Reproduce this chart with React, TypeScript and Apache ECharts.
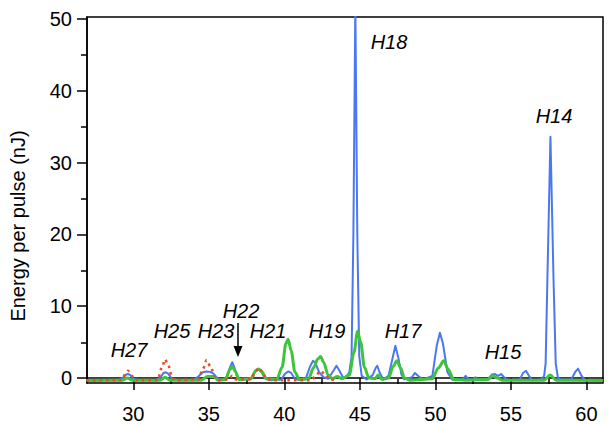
import React, { useEffect, useRef } from "react";
import * as echarts from "echarts";

// x: wavelength-like axis value, y: energy per pulse (nJ)
const blueSeries: [number, number][] = [
  [26.9, -0.3], [28.0, -0.3], [29.0, -0.3], [29.3, 0.0], [29.5, 0.45], [29.65, 0.55], [29.8, 0.4], [30.0, -0.1], [30.3, -0.3],
  [31.5, -0.3], [31.8, 0.1], [32.0, 0.7], [32.15, 0.8], [32.3, 0.6], [32.55, -0.1], [32.9, -0.3],
  [34.0, -0.3], [34.3, 0.2], [34.6, 0.8], [34.85, 0.9], [35.1, 0.85], [35.3, 0.6], [35.6, -0.1], [35.9, -0.3],
  [36.2, 0.2], [36.4, 1.5], [36.55, 2.2], [36.7, 1.4], [36.9, 0.0], [37.2, -0.3],
  [37.8, 0.0], [38.05, 0.9], [38.25, 1.2], [38.45, 0.9], [38.75, -0.1], [39.1, -0.3],
  [39.8, -0.2], [40.05, 0.6], [40.25, 0.9], [40.45, 0.7], [40.7, -0.1], [41.0, -0.3],
  [41.4, -0.2], [41.7, 1.6], [41.9, 2.4], [42.05, 2.1], [42.3, 0.8], [42.6, 0.1], [42.9, -0.1],
  [43.25, 1.0], [43.45, 1.7], [43.65, 1.0], [43.9, 0.0], [44.15, 0.3],
  [44.3, 0.8], [44.45, 3.0], [44.57, 20], [44.7, 52], [44.83, 20], [44.96, 3.0], [45.12, 0.3], [45.45, -0.2],
  [45.85, 0.4], [46.05, 1.4], [46.15, 1.7], [46.3, 0.8], [46.55, -0.2],
  [46.9, 0.3], [47.15, 2.6], [47.35, 4.5], [47.55, 2.8], [47.75, 0.5], [47.95, -0.2],
  [48.45, 0.1], [48.65, 0.7], [48.9, 0.2], [49.2, -0.2],
  [49.8, 0.3], [50.1, 4.6], [50.3, 6.3], [50.5, 4.8], [50.8, 0.8], [51.1, -0.2],
  [51.8, -0.2], [52.0, 0.3], [52.2, -0.2], [52.5, -0.2], [52.65, 0.1], [52.8, -0.2],
  [53.5, -0.1], [53.75, 0.5], [53.95, 0.55], [54.15, 0.3], [54.35, 0.55], [54.55, 0.1], [54.8, -0.3],
  [55.6, -0.2], [55.8, 0.7], [56.0, 1.0], [56.2, 0.3], [56.4, -0.3],
  [57.0, -0.2], [57.2, 0.3], [57.3, 2.0], [57.42, 14], [57.62, 33.6], [57.82, 14], [57.97, 2.0], [58.12, 0.0], [58.3, -0.2],
  [59.0, -0.2], [59.25, 0.8], [59.45, 1.3], [59.65, 0.4], [59.9, -0.3], [61.1, -0.3],
];

const greenSeries: [number, number][] = [
  [26.9, -0.35], [29.3, -0.3], [29.6, 0.0], [29.9, -0.3], [31.8, -0.3], [32.1, 0.1], [32.4, -0.3],
  [34.5, -0.3], [34.9, 0.2], [35.3, 0.2], [35.6, -0.3],
  [36.1, -0.2], [36.4, 1.2], [36.55, 1.6], [36.75, 0.9], [37.0, -0.2],
  [37.8, -0.1], [38.1, 1.0], [38.3, 1.25], [38.5, 0.9], [38.8, -0.1],
  [39.5, -0.2], [39.85, 1.5], [40.1, 4.8], [40.25, 5.4], [40.45, 3.8], [40.7, 0.8], [41.0, -0.2],
  [41.6, -0.1], [41.95, 1.5], [42.2, 2.6], [42.4, 3.0], [42.6, 2.2], [42.9, 0.4], [43.2, -0.1],
  [43.5, 0.2], [43.8, -0.1],
  [44.3, 0.4], [44.6, 3.5], [44.85, 6.5], [45.05, 5.0], [45.3, 1.5], [45.6, 0.0],
  [46.0, -0.1], [46.2, 0.4], [46.45, -0.2],
  [46.9, 0.0], [47.2, 1.6], [47.45, 2.4], [47.7, 1.4], [47.95, 0.0], [48.3, -0.3],
  [49.8, -0.1], [50.2, 1.4], [50.55, 2.4], [50.85, 1.2], [51.2, -0.2],
  [52.0, -0.3], [53.5, -0.2], [53.8, 0.3], [54.1, 0.0], [54.4, -0.3],
  [57.2, -0.3], [57.6, 0.4], [58.0, -0.3], [61.1, -0.35],
];

const redSeries: [number, number][] = [
  [26.9, -0.35], [29.2, -0.3], [29.5, 0.6], [29.65, 1.0], [29.8, 0.6], [30.1, -0.3],
  [31.6, -0.3], [31.9, 1.5], [32.1, 2.6], [32.3, 1.8], [32.6, -0.1], [32.9, -0.3],
  [34.3, -0.2], [34.6, 1.2], [34.85, 2.5], [35.1, 1.6], [35.4, 0.2], [35.7, -0.3],
  [36.3, -0.2], [36.55, 0.3], [36.8, -0.2],
  [37.8, -0.2], [38.1, 1.0], [38.3, 1.4], [38.5, 1.0], [38.8, -0.1], [39.2, -0.3],
  [41.8, -0.3], [42.1, 0.4], [42.4, 1.0], [42.7, 0.5], [43.0, -0.2], [43.5, -0.3],
];

const xMajorTicks = [30, 35, 40, 45, 50, 55, 60];
const xMinorTicks = [32.5, 37.5, 42.5, 47.5, 52.5, 57.5];
const yMajorTicks = [0, 10, 20, 30, 40, 50];
const yMinorTicks = [5, 15, 25, 35, 45];

const harmonicLabels = ["H27", "H25", "H23", "H22", "H21", "H19", "H17", "H15", "H18", "H14"];
const labelPos: [number, number][] = [
  [129, 350], [172, 331], [216, 331], [241, 311], [268, 331], [327, 331], [403, 331], [503, 352], [389, 42], [554, 116],
];

const X_MIN = 26.93;
const X_MAX = 61.1;
const Y_MIN = -0.7;
const Y_MAX = 50.28;
const FONT = "Liberation Sans, Arial, sans-serif";

export default function App() {
  const ref = useRef<HTMLDivElement>(null);
  useEffect(() => {
    if (!ref.current) return;
    const chart = echarts.init(ref.current, undefined, { renderer: "svg" });
    const gridRect = { left: 87, right: 11, top: 17, bottom: 40 };
    const black = "#000";
    chart.setOption({
      animation: false,
      backgroundColor: "#fff",
      grid: [
        { ...gridRect, show: true, borderColor: black, borderWidth: 1.5, backgroundColor: "transparent" },
        { ...gridRect, show: false },
      ],
      xAxis: [
        {
          type: "value", gridIndex: 0, min: X_MIN, max: X_MAX,
          axisLine: { show: true, lineStyle: { color: black, width: 1.5 } },
          axisTick: { show: true, customValues: xMajorTicks, length: 12, lineStyle: { color: black, width: 1.5 } },
          axisLabel: { customValues: xMajorTicks, fontSize: 20, color: black, margin: 21, fontFamily: FONT },
          splitLine: { show: false },
        },
        {
          type: "value", gridIndex: 1, min: X_MIN, max: X_MAX,
          axisLine: { show: false },
          axisTick: { show: true, customValues: xMinorTicks, length: 5, lineStyle: { color: black, width: 1.5 } },
          axisLabel: { show: false },
          splitLine: { show: false },
        },
      ],
      yAxis: [
        {
          type: "value", gridIndex: 0, min: Y_MIN, max: Y_MAX,
          axisLine: { show: true, lineStyle: { color: black, width: 1.5 } },
          axisTick: { show: true, customValues: yMajorTicks, length: 10, lineStyle: { color: black, width: 1.5 } },
          axisLabel: { customValues: yMajorTicks, fontSize: 20, color: black, margin: 15, fontFamily: FONT },
          splitLine: { show: false },
        },
        {
          type: "value", gridIndex: 1, min: Y_MIN, max: Y_MAX,
          axisLine: { show: false },
          axisTick: { show: true, customValues: yMinorTicks, length: 6, lineStyle: { color: black, width: 1.5 } },
          axisLabel: { show: false },
          splitLine: { show: false },
        },
      ],
      series: [
        {
          type: "line", xAxisIndex: 0, yAxisIndex: 0, data: blueSeries, showSymbol: false,
          smooth: false, clip: true,
          lineStyle: { color: "#4a78f0", width: 2, join: "round" },
        },
        {
          type: "line", xAxisIndex: 0, yAxisIndex: 0, data: greenSeries, showSymbol: false,
          smooth: 0.3, smoothMonotone: "x", clip: true,
          lineStyle: { color: "#3ec43a", width: 3 },
        },
        {
          type: "line", xAxisIndex: 0, yAxisIndex: 0, data: redSeries, showSymbol: false,
          smooth: 0.3, smoothMonotone: "x", clip: true,
          lineStyle: { color: "#ec4a26", width: 2.6, type: [2.5, 4] },
        },
      ],
      graphic: [
        {
          type: "text", x: 18, y: 226, rotation: Math.PI / 2,
          style: { text: "Energy per pulse (nJ)", fontSize: 20, fontFamily: FONT, fill: black, align: "center", verticalAlign: "middle" },
        },
        ...harmonicLabels.map((t, i) => ({
          type: "text", x: labelPos[i][0], y: labelPos[i][1],
          style: { text: t, fontSize: 20, fontStyle: "italic", fontFamily: FONT, fill: black, align: "center", verticalAlign: "middle" },
        })),
        { type: "line", shape: { x1: 238, y1: 323, x2: 238, y2: 348 }, style: { stroke: black, lineWidth: 1.5 } },
        { type: "polygon", shape: { points: [[233.5, 346], [242.5, 346], [238, 357]] }, style: { fill: black } },
      ],
    });
    return () => chart.dispose();
  }, []);
  return <div ref={ref} style={{ position: "fixed", left: 0, top: 0, width: 614, height: 424 }} />;
}
